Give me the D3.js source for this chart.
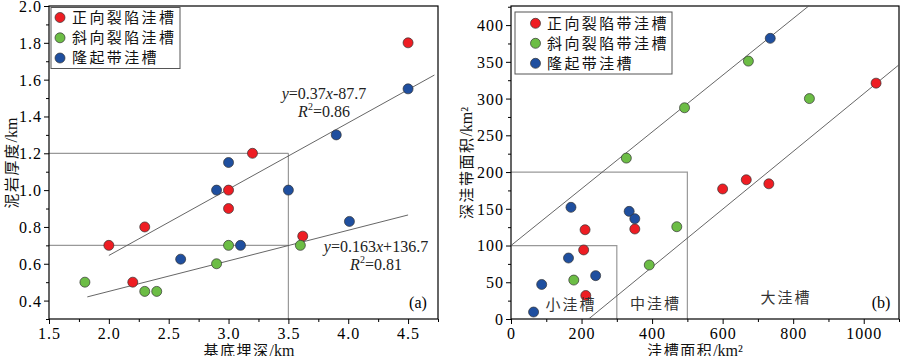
<!DOCTYPE html>
<html><head><meta charset="utf-8">
<script src="https://cdn.jsdelivr.net/npm/d3@7"></script>
<style>body{margin:0;background:#fff}</style></head>
<body>
<svg id="c" width="900" height="356" xmlns="http://www.w3.org/2000/svg"></svg>
<script>
// ---------- data ----------
const legendA = ["正向裂陷洼槽", "斜向裂陷洼槽", "隆起带洼槽"];
const legendB = ["正向裂陷带洼槽", "斜向裂陷带洼槽", "隆起带洼槽"];
const colors = ["#ee1d23", "#6cbd45", "#1f4f9f"];

// chart (a): depth (km) vs mudstone thickness (km)
const aRed   = [[4.5,1.8],[3.2,1.2],[3.0,1.0],[3.0,0.9],[2.3,0.8],[2.0,0.7],[2.2,0.5],[3.62,0.75]];
const aGreen = [[1.8,0.5],[2.3,0.45],[2.4,0.45],[2.9,0.6],[3.0,0.7],[3.6,0.7]];
const aBlue  = [[4.5,1.55],[3.9,1.3],[3.0,1.15],[2.9,1.0],[3.5,1.0],[4.01,0.83],[3.1,0.7],[2.6,0.625]];
const aFitUpper = [[2.0,0.645],[4.72,1.625]];
const aFitLower = [[1.82,0.42],[4.5,0.865]];
const aRefLines = [[[1.5,1.2],[3.5,1.2]], [[1.5,0.7],[3.5,0.7]], [[3.5,1.2],[3.5,0.3]]];
const aXTicks = [1.5,2.0,2.5,3.0,3.5,4.0,4.5];
const aYTicks = [0.4,0.6,0.8,1.0,1.2,1.4,1.6,1.8,2.0];
const aEq1 = ["y", "=0.37", "x", "-87.7", "0.86"];
const aEq2 = ["y", "=0.163", "x", "+136.7", "0.81"];

// chart (b): trough area vs deep trough area
const bRed   = [[1035,321],[600,177],[667,189.5],[731,184],[210,121.5],[206,94],[212,32],[351,122.5]];
const bGreen = [[846,300],[673,351],[492,287.5],[327,219],[178,53],[392,73.5],[470,125.6]];
const bBlue  = [[735,382],[64,9.5],[87,47],[163,83],[170,152],[240,59],[335,146.5],[351,136.5]];
const bFitUpper = [[0,100],[844,426]];
const bFitLower = [[220,0],[1100,346]];
const bBoxes = [[300,100],[500,200]];
const bXTicks = [0,200,400,600,800,1000];
const bYTicks = [0,50,100,150,200,250,300,350,400];
const bZones = [["小洼槽",170,12],["中洼槽",410,14],["大洼槽",780,22]];

// ---------- drawing ----------
const svg = d3.select("#c");
const serif = "'Liberation Serif','Times New Roman',serif";
const cjk = "'Noto Sans CJK SC','Noto Sans CJK JP',sans-serif";

function frame(g, x, y, xMajor, xMinor, yMajor, yMinor, fmtX, fmtY) {
  const [x0, x1] = x.range(), [y0, y1] = y.range();
  g.append("g").attr("transform", `translate(0,${y0})`)
    .call(d3.axisBottom(x).tickValues(xMinor).tickSize(3).tickFormat(""))
    .call(s => s.select(".domain").remove());
  g.append("g").attr("transform", `translate(${x0},0)`)
    .call(d3.axisLeft(y).tickValues(yMinor).tickSize(3).tickFormat(""))
    .call(s => s.select(".domain").remove());
  const ax = g.append("g").attr("transform", `translate(0,${y0})`)
    .call(d3.axisBottom(x).tickValues(xMajor).tickSize(5).tickPadding(3).tickFormat(fmtX));
  ax.select(".domain").remove();
  const ay = g.append("g").attr("transform", `translate(${x0},0)`)
    .call(d3.axisLeft(y).tickValues(yMajor).tickSize(5).tickPadding(2).tickFormat(fmtY));
  ay.select(".domain").remove();
  g.selectAll(".tick line").attr("stroke", "#000").attr("stroke-width", 1);
  g.selectAll(".tick text").attr("font-family", serif).attr("font-size", 16)
    .attr("letter-spacing", 1).attr("fill", "#000");
  ay.selectAll(".tick text").attr("dy", "0.34em");
  ax.selectAll(".tick text").attr("dy", "0.72em");
  g.append("rect").attr("x", x0).attr("y", y1).attr("width", x1 - x0).attr("height", y0 - y1)
    .attr("fill", "none").attr("stroke", "#000").attr("stroke-width", 1.2);
}

function points(g, x, y, series) {
  series.forEach((s, i) => {
    g.append("g").selectAll("circle").data(s).join("circle")
      .attr("cx", d => x(d[0])).attr("cy", d => y(d[1])).attr("r", 5)
      .attr("fill", colors[i]).attr("stroke", "#333").attr("stroke-width", 0.7);
  });
}

function legend(g, items, bx, by, bw, bh, mx, tx, rows) {
  g.append("rect").attr("x", bx).attr("y", by).attr("width", bw).attr("height", bh)
    .attr("fill", "#fff").attr("stroke", "#555").attr("stroke-width", 1);
  items.forEach((t, i) => {
    g.append("circle").attr("cx", mx).attr("cy", rows[i]).attr("r", 5)
      .attr("fill", colors[i]).attr("stroke", "#333").attr("stroke-width", 0.7);
    g.append("text").attr("x", tx).attr("y", rows[i]).attr("dy", "0.36em")
      .attr("font-family", cjk).attr("font-size", 15).attr("letter-spacing", 2.4)
      .attr("fill", "#111").text(t);
  });
}

function equation(g, cx, by, eq) {
  const t1 = g.append("text").attr("x", cx).attr("y", by).attr("text-anchor", "middle")
    .attr("font-family", serif).attr("font-size", 16).attr("fill", "#222");
  t1.append("tspan").attr("font-style", "italic").text(eq[0]);
  t1.append("tspan").text(eq[1]);
  t1.append("tspan").attr("font-style", "italic").text(eq[2]);
  t1.append("tspan").text(eq[3]);
  const t2 = g.append("text").attr("x", cx).attr("y", by + 18).attr("text-anchor", "middle")
    .attr("font-family", serif).attr("font-size", 16).attr("fill", "#222");
  t2.append("tspan").attr("font-style", "italic").text("R");
  t2.append("tspan").attr("font-size", 10).attr("dy", -7).text("2");
  t2.append("tspan").attr("dy", 7).text("=" + eq[4]);
}

function xTitle(g, cx, cjkText, unit) {
  const t = g.append("text").attr("x", cx).attr("y", 355.5).attr("text-anchor", "middle")
    .attr("font-size", 15).attr("fill", "#111");
  t.append("tspan").attr("font-family", cjk).attr("letter-spacing", 1.5).text(cjkText);
  t.append("tspan").attr("font-family", serif).attr("font-size", 16).text(unit);
}
function yTitle(g, cx, cy, cjkText, unit) {
  const t = g.append("text").attr("transform", `translate(${cx},${cy}) rotate(-90)`)
    .attr("text-anchor", "middle").attr("dy", "0.36em").attr("font-size", 15).attr("fill", "#111");
  t.append("tspan").attr("font-family", cjk).attr("letter-spacing", 1.5).text(cjkText);
  t.append("tspan").attr("font-family", serif).attr("font-size", 16).text(unit);
}

const line = (x, y) => d3.line().x(d => x(d[0])).y(d => y(d[1]));

// ===== chart (a) =====
{
  const g = svg.append("g");
  const x = d3.scaleLinear().domain([1.5, 4.75]).range([49, 438]);
  const y = d3.scaleLinear().domain([0.3, 2.0]).range([319, 6]);
  const xMinor = d3.range(1.75, 4.76, 0.5);
  const yMinor = d3.range(3, 20, 2).map(v => v / 10);
  g.append("g").selectAll("path").data(aRefLines).join("path")
    .attr("d", line(x, y)).attr("fill", "none").attr("stroke", "#999").attr("stroke-width", 1.2);
  frame(g, x, y, aXTicks, xMinor, aYTicks, yMinor, d3.format(".1f"), d3.format(".1f"));
  [aFitUpper, aFitLower].forEach(l => g.append("path").attr("d", line(x, y)(l))
    .attr("fill", "none").attr("stroke", "#555").attr("stroke-width", 0.9));
  points(g, x, y, [aRed, aGreen, aBlue]);
  legend(g, legendA, 51, 7.5, 129, 61, 60, 72, [17.5, 37.8, 58]);
  equation(g, 324, 99, aEq1);
  equation(g, 376, 252, aEq2);
  g.append("text").attr("x", 418).attr("y", 308).attr("text-anchor", "middle")
    .attr("font-family", serif).attr("font-size", 16).text("(a)");
  xTitle(g, 249, "基底埋深", "/km");
  yTitle(g, 12, 163, "泥岩厚度", "/km");
}

// ===== chart (b) =====
{
  const g = svg.append("g");
  const x = d3.scaleLinear().domain([0, 1100]).range([511, 899]);
  const y = d3.scaleLinear().domain([0, 426]).range([319, 6]);
  const xMinor = d3.range(100, 1101, 200);
  const yMinor = d3.range(25, 426, 50);
  g.append("g").selectAll("path").data(bBoxes).join("path")
    .attr("d", d => line(x, y)([[0, d[1]], [d[0], d[1]], [d[0], 0]]))
    .attr("fill", "none").attr("stroke", "#999").attr("stroke-width", 1.2);
  frame(g, x, y, bXTicks, xMinor, bYTicks, yMinor, d3.format("d"), d3.format("d"));
  [bFitUpper, bFitLower].forEach(l => g.append("path").attr("d", line(x, y)(l))
    .attr("fill", "none").attr("stroke", "#555").attr("stroke-width", 0.9));
  points(g, x, y, [bRed, bGreen, bBlue]);
  legend(g, legendB, 515, 12, 157, 62, 535.5, 547, [23.3, 43.3, 63.3]);
  bZones.forEach(z => g.append("text").attr("x", x(z[1])).attr("y", y(z[2]))
    .attr("font-family", cjk).attr("font-size", 15).attr("letter-spacing", 2)
    .attr("text-anchor", "middle").attr("fill", "#333").text(z[0]));
  g.append("text").attr("x", 881).attr("y", 308).attr("text-anchor", "middle")
    .attr("font-family", serif).attr("font-size", 16).text("(b)");
  xTitle(g, 695, "洼槽面积", "/km²");
  yTitle(g, 467, 163, "深洼带面积", "/km²");
}
</script>
</body></html>
